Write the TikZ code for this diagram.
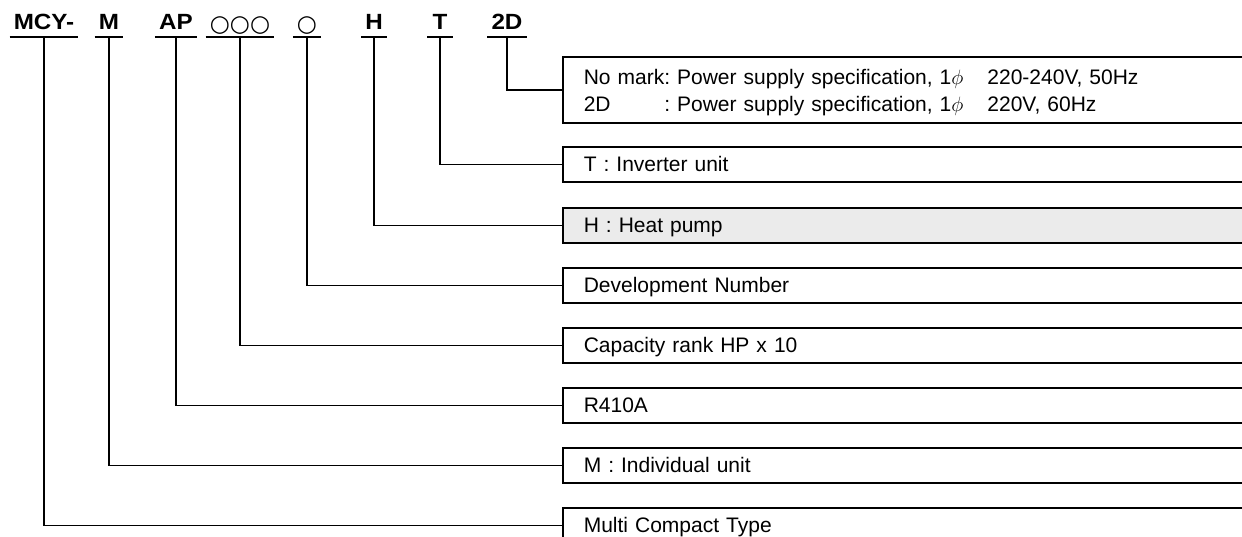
\documentclass[tikz,border=0pt]{standalone}
\usepackage{fontspec}
\setmainfont{Liberation Sans}[WordSpace=0.7]
\newfontfamily\codefont{Liberation Sans}[FakeStretch=1.1]
\newfontfamily\symfont{DejaVu Sans}
\usepackage{xcolor}
\usetikzlibrary{positioning}
\definecolor{hpfill}{RGB}{235,235,235}

\begin{document}
\frenchspacing
\begin{tikzpicture}[x=1pt, y=-1pt,
  code/.style={font=\codefont\bfseries\fontsize{22}{22}\selectfont, anchor=south, inner xsep=4pt, inner ysep=7pt, text height=15pt, text depth=0pt, minimum width=25pt},
  ring/.style={code, font=\symfont\fontsize{23}{23}\selectfont, inner ysep=5pt},
  entry/.style={draw, line width=1.6pt, anchor=north west, minimum width=700pt, minimum height=35pt, inner xsep=21pt, inner ysep=0pt, text width=658pt, align=left, font=\frenchspacing\fontsize{21}{27}\selectfont},
  single/.style={entry, text height=15pt, text depth=0pt},
  link/.style={line width=1.4pt},
  bar/.style={line width=1.8pt}
]
\useasboundingbox (0,0) rectangle (1242,536);
\clip (0,0) rectangle (1242,536);

% model code
\node[code] (cMCY) at (44,37) {MCY-};
\node[code] (cM) at (109,37) {M};
\node[code] (cAP) at (176,37) {AP};
\node[ring] (cRank) at (240,37) {○○○};
\node[ring] (cDev) at (307,37) {○};
\node[code] (cH) at (374,37) {H};
\node[code] (cT) at (440,37) {T};
\node[code] (cTwoD) at (507,37) {2D};

\foreach \n in {MCY,M,AP,Rank,Dev,H,T,TwoD}
  \draw[bar] (c\n.south west) -- (c\n.south east);

% meanings
\node[entry, minimum height=66pt] (bTwoD) at (562,56)
  {\rule{0pt}{21pt}No mark: Power supply specification, 1$\phi$\hspace{24pt}220-240V, 50Hz\\
   \leavevmode\rlap{2D}\hphantom{No mark}: Power supply specification, 1$\phi$\hspace{24pt}220V, 60Hz};
\node[single] (bT) at (562,146) {T : Inverter unit};
\node[single, fill=hpfill] (bH) at (562,207) {H : Heat pump};
\node[single] (bDev) at (562,267) {Development Number};
\node[single] (bRank) at (562,327) {Capacity rank HP x 10};
\node[single] (bAP) at (562,387) {R410A};
\node[single] (bM) at (562,447) {M : Individual unit};
\node[single] (bMCY) at (562,507) {Multi Compact Type};

% lines
\foreach \n in {MCY,M,AP,Rank,Dev,H,T,TwoD}
  \draw[link] (c\n.south) |- (b\n.west);

\end{tikzpicture}
\end{document}
